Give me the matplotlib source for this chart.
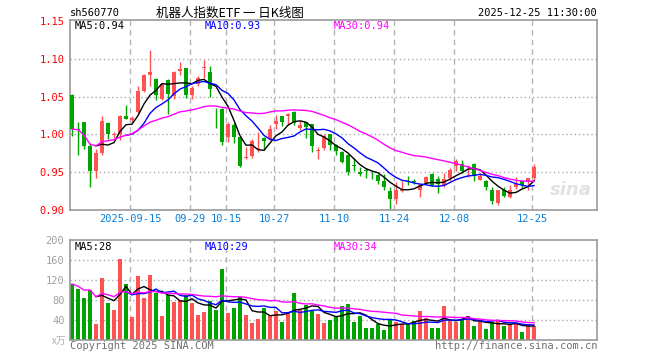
import numpy as np
import pandas as pd
import matplotlib
matplotlib.use('Agg')
import matplotlib.pyplot as plt

# daily K data, 2025-09-01 .. 2025-12-25 (78 trading days)
opens = [1.052, 1.0065, 1.016, 0.985, 0.951, 0.9755, 1.015, 0.999, 1.0004, 1.0246,
         1.0195, 1.029, 1.0575, 1.079, 1.0737, 1.0465, 1.072, 1.0509, 1.0838, 1.0873,
         1.0518, 1.0662, 1.088, 1.0825, 1.0335, 1.034, 0.996, 1.0123, 0.996, 0.969,
         0.971, 0.981, 0.995, 0.9939, 1.0136, 1.0237, 1.0246, 1.029, 1.008, 1.0167,
         1.0136, 0.978, 0.9816, 1.0004, 0.986, 0.9772, 0.9728, 0.959, 0.9509, 0.9524,
         0.9489, 0.9465, 0.939, 0.9246, 0.915, 0.925, 0.9379, 0.9372, 0.926, 0.936,
         0.9478, 0.941, 0.9325, 0.942, 0.9588, 0.961, 0.9566, 0.961, 0.9403, 0.939,
         0.9259, 0.9096, 0.9259, 0.917, 0.930, 0.9377, 0.9368, 0.942]
highs = [1.053, 1.016, 1.017, 0.987, 0.981, 1.0246, 1.016, 1.0035, 1.026, 1.0386,
         1.025, 1.064, 1.0794, 1.112, 1.0745, 1.0675, 1.073, 1.084, 1.0956, 1.0875,
         1.0645, 1.077, 1.099, 1.091, 1.035, 1.035, 1.016, 1.015, 0.997, 0.983,
         0.994, 1.0026, 0.996, 1.0123, 1.0254, 1.025, 1.0285, 1.0305, 1.0175, 1.017,
         1.014, 0.9838, 1.0004, 1.001, 0.987, 0.9785, 0.974, 0.9684, 0.9566, 0.9553,
         0.951, 0.947, 0.948, 0.930, 0.937, 0.938, 0.9456, 0.9416, 0.9325, 0.9447,
         0.949, 0.9453, 0.949, 0.9553, 0.967, 0.9667, 0.9597, 0.962, 0.949, 0.940,
         0.930, 0.927, 0.930, 0.9325, 0.943, 0.938, 0.942, 0.9605]
lows = [0.998, 0.973, 0.981, 0.930, 0.942, 0.973, 0.994, 0.9947, 0.992, 1.020,
        1.017, 1.0268, 1.056, 1.064, 1.0456, 1.045, 1.0267, 1.0465, 1.079, 1.048,
        1.0465, 1.064, 1.075, 1.050, 1.009, 0.986, 0.9904, 0.989, 0.957, 0.9675,
        0.969, 0.977, 0.980, 0.992, 1.007, 1.0105, 1.0123, 1.012, 1.006, 0.9947,
        0.977, 0.9675, 0.980, 0.980, 0.973, 0.962, 0.9465, 0.9522, 0.9456, 0.942,
        0.9413, 0.9346, 0.927, 0.9009, 0.908, 0.924, 0.933, 0.935, 0.917, 0.934,
        0.9316, 0.923, 0.931, 0.939, 0.951, 0.949, 0.943, 0.9377, 0.9396, 0.926,
        0.9083, 0.906, 0.917, 0.9155, 0.928, 0.929, 0.927, 0.9403]
closes = [1.007, 1.0055, 0.985, 0.951, 0.9755, 1.018, 1.0004, 1.001, 1.0246, 1.020,
          1.0215, 1.0575, 1.078, 1.0825, 1.0518, 1.0662, 1.053, 1.0825, 1.0868, 1.0518,
          1.061, 1.075, 1.0892, 1.0596, 1.033, 0.990, 1.0136, 0.996, 0.9588, 0.970,
          0.9917, 0.9825, 0.9917, 1.007, 1.018, 1.0167, 1.0276, 1.015, 1.0123, 1.0092,
          0.985, 0.979, 0.9974, 0.986, 0.9785, 0.964, 0.9509, 0.9586, 0.948, 0.952,
          0.9485, 0.939, 0.930, 0.914, 0.926, 0.926, 0.9375, 0.9368, 0.9325, 0.9434,
          0.9325, 0.9347, 0.941, 0.953, 0.9654, 0.9522, 0.9588, 0.9447, 0.9456, 0.930,
          0.9114, 0.9259, 0.9184, 0.926, 0.9346, 0.9333, 0.942, 0.9566]
# volume, 万手
volumes = [112, 103, 85, 100, 33, 125, 75, 60, 163, 112,
           47, 128, 85, 130, 95, 49, 91, 76, 80, 90,
           75, 50, 56, 78, 60, 143, 55, 65, 87, 51,
           35, 42, 65, 50, 58, 37, 57, 95, 60, 71,
           58, 52, 35, 40, 48, 68, 72, 36, 48, 24,
           24, 32, 20, 40, 36, 32, 32, 38, 58, 45,
           24, 24, 68, 40, 36, 40, 48, 28, 38, 22,
           36, 38, 28, 32, 32, 16, 32, 28]

holidays = ['2025-10-01', '2025-10-02', '2025-10-03', '2025-10-06', '2025-10-07', '2025-10-08']
label_days = ['2025-09-15', '2025-09-29', '2025-10-15', '2025-10-27',
              '2025-11-10', '2025-11-24', '2025-12-08', '2025-12-25']
price_ticks = [0.90, 0.95, 1.00, 1.05, 1.10, 1.15]
vol_ticks = [40, 80, 120, 160, 200]

days = pd.bdate_range('2025-09-01', '2025-12-25').drop(pd.to_datetime(holidays))
df = pd.DataFrame({'open': opens, 'high': highs, 'low': lows, 'close': closes,
                   'vol': volumes}, index=days)
df['ma5'] = df.close.rolling(5).mean()
df['ma10'] = df.close.rolling(10).mean()
df['ma30'] = df.close.rolling(30, min_periods=1).mean()
df['vma5'] = df.vol.rolling(5).mean()
df['vma10'] = df.vol.rolling(10).mean()
df['vma30'] = df.vol.rolling(30, min_periods=1).mean()

RED = '#ff5252'
GREEN = '#00a400'
GRID = '#aaaaaa'
FRAME = '#999999'
MONO = 'DejaVu Sans Mono'
CJK = ['Noto Sans CJK SC', 'DejaVu Sans']

x = np.arange(len(df))
up = df.close.values >= df.open.values
colors = np.where(up, RED, GREEN)
tick_x = [df.index.get_loc(pd.Timestamp(d)) - 0.33 for d in label_days]
tick_lbl = [label_days[0]] + [d[5:] for d in label_days[1:]]

W, H = 660, 360
fig = plt.figure(figsize=(6.6, 3.6), dpi=100)
ax1 = fig.add_axes([70 / W, 150 / H, 527 / W, 190 / H])
ax2 = fig.add_axes([70 / W, 20 / H, 527 / W, 100 / H])

for ax in (ax1, ax2):
    ax.set_xlim(-0.333, 87.5)
    for s in ax.spines.values():
        s.set_color(FRAME)
        s.set_linewidth(1.2)
    for tx in tick_x:
        ax.axvline(tx, color='#b4b4b4', lw=1, dashes=(4, 3), zorder=0)
    ax.tick_params(length=0)

# price panel
ax1.set_ylim(0.90, 0.90 + 190 / 756)
ax1.set_yticks(price_ticks)
ax1.set_yticklabels([f'{v:.2f}' for v in price_ticks], fontsize=7.5,
                    color='#ff0000', family=MONO)
for v in price_ticks[1:-1]:
    ax1.axhline(v, color=GRID, lw=1, ls=(0, (1, 2)), zorder=0)
ax1.set_xticks(tick_x)
ax1.set_xticklabels(tick_lbl, fontsize=7.5, color='#0a80d8', family=MONO)
ax1.tick_params(axis='x', pad=3)
ax1.tick_params(axis='y', pad=4)

body = np.maximum(np.abs(df.close.values - df.open.values), 0.0009)
ax1.vlines(x, df.low, df.high, color=colors, lw=1, zorder=2)
ax1.bar(x, body, bottom=np.minimum(df.open.values, df.close.values), width=0.8,
        color=colors, lw=0, zorder=3)
ax1.plot(x, df.ma5, color='black', lw=1, zorder=4)
ax1.plot(x, df.ma10, color='#0000ff', lw=1, zorder=4)
ax1.plot(x, df.ma30, color='#ff00ff', lw=1, zorder=4)

# volume panel
ax2.set_ylim(0, 200)
ax2.set_yticks(vol_ticks)
ax2.set_yticklabels([str(v) for v in vol_ticks], fontsize=7.5, color='#a0a0a0', family=MONO)
ax2.tick_params(axis='y', pad=4)
ax2.set_xticks([])
for v in vol_ticks[:-1]:
    ax2.axhline(v, color=GRID, lw=1, ls=(0, (1, 2)), zorder=0)
ax2.bar(x, df.vol, width=0.82, color=colors, lw=0, zorder=2)
ax2.plot(x, df.vma5, color='black', lw=1, zorder=3)
ax2.plot(x, df.vma10, color='#0000ff', lw=1, zorder=3)
ax2.plot(x, df.vma30, color='#ff00ff', lw=1, zorder=3)


def put(px, py, s, **kw):
    fig.text(px / W, 1 - py / H, s, va='center', **kw)


put(70, 13, 'sh560770', fontsize=7.5, family=MONO, color='black')
put(230, 13, '机器人指数ETF 一 日K线图', fontsize=9, family=CJK, ha='center', color='black')
put(597, 13, '2025-12-25 11:30:00', fontsize=7.5, family=MONO, ha='right', color='black')

put(75, 26, 'MA5:0.94', fontsize=7.5, family=MONO, color='black')
put(205, 26, 'MA10:0.93', fontsize=7.5, family=MONO, color='#0000ff')
put(334, 26, 'MA30:0.94', fontsize=7.5, family=MONO, color='#ff00ff')
put(75, 247, 'MA5:28', fontsize=7.5, family=MONO, color='black')
put(205, 247, 'MA10:29', fontsize=7.5, family=MONO, color='#0000ff')
put(334, 247, 'MA30:34', fontsize=7.5, family=MONO, color='#ff00ff')

put(66, 341, 'x万', fontsize=7, family=CJK, ha='right', color='#b0b0b0')
put(70, 346, 'Copyright 2025 SINA.COM', fontsize=7.5, family=MONO, color='#707070')
put(597, 346, 'http://finance.sina.com.cn', fontsize=7.5, family=MONO, ha='right', color='#707070')
put(571, 190, 'sina', fontsize=13, family='DejaVu Sans', ha='center', color='#e2e2e2',
    fontweight='bold', style='italic')

fig.savefig('out.png', dpi=100)
